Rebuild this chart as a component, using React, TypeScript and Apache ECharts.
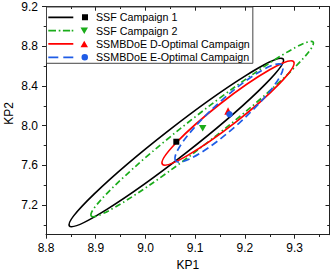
import React, { useEffect, useRef } from 'react';
import * as echarts from 'echarts';

// ---- data ----
const campaigns = ['SSF Campaign 1', 'SSF Campaign 2', 'SSMBDoE D-Optimal Campaign', 'SSMBDoE E-Optimal Campaign'];
// parameter estimates (markers)
const estimateKP1 = [9.062, 9.115, 9.166, 9.169];
const estimateKP2 = [7.838, 7.973, 8.148, 8.115];
// confidence ellipses: centre, end of the major semi-axis, end of the minor semi-axis
const ellipseCenterKP1 = [9.062, 9.114, 9.166, 9.168];
const ellipseCenterKP2 = [7.830, 7.966, 8.128, 8.128];
const ellipseTipKP1 = [9.277, 9.337, 9.298, 9.275];
const ellipseTipKP2 = [8.672, 8.844, 8.645, 8.612];
const ellipseMinorKP1 = [9.044, 9.097, 9.151, 9.149];
const ellipseMinorKP2 = [7.941, 8.077, 8.223, 8.236];
// axes
const kp1Range = [8.8, 9.37];
const kp2Range = [6.9, 9.2];
const kp1Ticks = [8.8, 8.9, 9.0, 9.1, 9.2, 9.3];
const kp1MinorTicks = [8.85, 8.95, 9.05, 9.15, 9.25, 9.35];
const kp2Ticks = [7.2, 7.6, 8.0, 8.4, 8.8, 9.2];
const kp2MinorTicks = [7.0, 7.4, 7.8, 8.2, 8.6, 9.0];
const xTitle = 'KP1';
const yTitle = 'KP2';

// ---- styles ----
const FONT = "'Liberation Sans', Arial, Helvetica, sans-serif";
const colors = ['#000000', '#1aac1a', '#ff0000', '#1f5ce6'];
const lineDashes: (number[] | null)[] = [null, [6, 3, 1.5, 3], null, [7, 4]];
const lineWidths = [1.7, 1.7, 1.7, 1.7];
const markerSymbols = ['path://M0,0H10V10H0Z', 'path://M0,0L10,0L5,8.66Z', 'triangle', 'circle'];
const markerSizes = [6, [7.5, 6.5], 7.5, 6.5];
// legend keys: line sample followed by the marker, as in the original
const legendIcons = [
  'path://M0,2.6H25V4.4H0Z M33.7,0.5H39.7V6.5H33.7Z',
  'path://M0,2.6H7.7V4.4H0Z M10.4,2.6H12.1V4.4H10.4Z M14.6,2.6H21.8V4.4H14.6Z M23.4,2.6H25V4.4H23.4Z M32.2,0.25H39.7L35.95,6.75Z',
  'path://M0,2.6H25V4.4H0Z M32.2,6.75H39.7L35.95,0.25Z',
  'path://M0,2.6H10V4.4H0Z M15,2.6H25V4.4H15Z M33.2,3.5A3.25,3.25,0,1,0,39.7,3.5A3.25,3.25,0,1,0,33.2,3.5Z',
];
const AXIS_COLOR = '#222';

function buildOption() {
  const tickLine = { color: AXIS_COLOR, width: 1 };
  const base = (range: number[]) => ({
    type: 'value',
    min: range[0],
    max: range[1],
    splitLine: { show: false },
    gridIndex: 0,
  });
  const fmt = (v: number) => v.toFixed(1);

  const xAxis = [
    {
      ...base(kp1Range),
      position: 'bottom',
      axisLine: { show: true, lineStyle: tickLine },
      axisTick: { show: true, inside: false, length: 4, customValues: kp1Ticks, lineStyle: tickLine },
      axisLabel: { show: true, customValues: kp1Ticks, formatter: fmt, margin: 7, fontSize: 12, color: '#000', fontFamily: FONT },
      name: xTitle,
      nameLocation: 'middle',
      nameGap: 23,
      nameTextStyle: { fontSize: 12, color: '#000', fontFamily: FONT },
    },
    {
      ...base(kp1Range),
      position: 'bottom',
      axisLine: { show: false },
      axisTick: { show: true, inside: false, length: 2.3, customValues: kp1MinorTicks, lineStyle: tickLine },
      axisLabel: { show: false },
    },
    {
      ...base(kp1Range),
      position: 'top',
      axisLine: { show: true, lineStyle: tickLine },
      axisTick: { show: true, inside: true, length: 4, customValues: kp1Ticks, lineStyle: tickLine },
      axisLabel: { show: false },
    },
    {
      ...base(kp1Range),
      position: 'top',
      axisLine: { show: false },
      axisTick: { show: true, inside: true, length: 2.3, customValues: kp1MinorTicks, lineStyle: tickLine },
      axisLabel: { show: false },
    },
  ];
  const yAxis = [
    {
      ...base(kp2Range),
      position: 'left',
      axisLine: { show: true, lineStyle: tickLine },
      axisTick: { show: true, inside: false, length: 4, customValues: kp2Ticks, lineStyle: tickLine },
      axisLabel: { show: true, customValues: kp2Ticks, formatter: fmt, margin: 8, fontSize: 12, color: '#000', fontFamily: FONT },
    },
    {
      ...base(kp2Range),
      position: 'left',
      axisLine: { show: false },
      axisTick: { show: true, inside: false, length: 2.3, customValues: kp2MinorTicks, lineStyle: tickLine },
      axisLabel: { show: false },
    },
    {
      ...base(kp2Range),
      position: 'right',
      axisLine: { show: true, lineStyle: tickLine },
      axisTick: { show: true, inside: true, length: 4, customValues: kp2Ticks, lineStyle: tickLine },
      axisLabel: { show: false },
    },
    {
      ...base(kp2Range),
      position: 'right',
      axisLine: { show: false },
      axisTick: { show: true, inside: true, length: 2.3, customValues: kp2MinorTicks, lineStyle: tickLine },
      axisLabel: { show: false },
    },
  ];

  const ellipseSeries = campaigns.map((name, i) => ({
    type: 'custom',
    name: name + ' confidence region',
    xAxisIndex: 0,
    yAxisIndex: 0,
    silent: true,
    z: 2,
    itemStyle: { color: colors[i] },
    encode: { x: [0, 2, 4], y: [1, 3, 5] },
    data: [[ellipseCenterKP1[i], ellipseCenterKP2[i], ellipseTipKP1[i], ellipseTipKP2[i], ellipseMinorKP1[i], ellipseMinorKP2[i]]],
    renderItem: (params: any, api: any) => {
      const c = api.coord([api.value(0), api.value(1)]);
      const t = api.coord([api.value(2), api.value(3)]);
      const m = api.coord([api.value(4), api.value(5)]);
      const rx = Math.hypot(t[0] - c[0], t[1] - c[1]);
      const ry = Math.hypot(m[0] - c[0], m[1] - c[1]);
      const rotation = Math.atan2(-(t[1] - c[1]), t[0] - c[0]);
      return {
        type: 'ellipse',
        x: c[0],
        y: c[1],
        rotation,
        shape: { cx: 0, cy: 0, rx, ry },
        style: {
          fill: 'none',
          stroke: colors[i],
          lineWidth: lineWidths[i],
          lineDash: lineDashes[i] || undefined,
        },
      };
    },
  }));

  const markerSeries = campaigns.map((name, i) => ({
    type: 'scatter',
    name,
    xAxisIndex: 0,
    yAxisIndex: 0,
    z: 5,
    symbol: markerSymbols[i],
    symbolSize: markerSizes[i],
    itemStyle: { color: colors[i], opacity: 1 },
    data: [[estimateKP1[i], estimateKP2[i]]],
  }));

  return {
    animation: false,
    backgroundColor: '#ffffff',
    grid: { left: 46, right: 2.5, top: 6.7, bottom: 37.3, containLabel: false, outerBoundsMode: 'none' },
    xAxis,
    yAxis,
    graphic: [
      {
        type: 'text',
        x: 8.5,
        y: 113.5,
        rotation: Math.PI / 2,
        style: { text: yTitle, fontSize: 12, fontFamily: FONT, fill: '#000', align: 'center', verticalAlign: 'middle' },
      },
    ],
    legend: {
      data: campaigns.map((c, i) => ({ name: c, icon: legendIcons[i] })),
      orient: 'vertical',
      left: 46.5,
      top: 7,
      padding: [4.3, 3, 0, 1.8],
      itemWidth: 39.7,
      itemHeight: 7,
      itemGap: 1.33,
      symbolKeepAspect: true,
      borderColor: '#444',
      borderWidth: 1,
      selectedMode: false,
      textStyle: { fontSize: 10.7, fontFamily: FONT, color: '#000', lineHeight: 12, padding: [0, 0, 0, 3] },
    },
    series: [...ellipseSeries, ...markerSeries],
  };
}

export default function App() {
  const ref = useRef<HTMLDivElement>(null);
  useEffect(() => {
    if (!ref.current) return;
    const chart = echarts.init(ref.current, undefined, { renderer: 'svg' });
    chart.setOption(buildOption() as any);
    return () => chart.dispose();
  }, []);
  return (
    <div
      ref={ref}
      style={{ position: 'fixed', left: 0, top: 0, width: 332, height: 272, background: '#fff' }}
    />
  );
}
